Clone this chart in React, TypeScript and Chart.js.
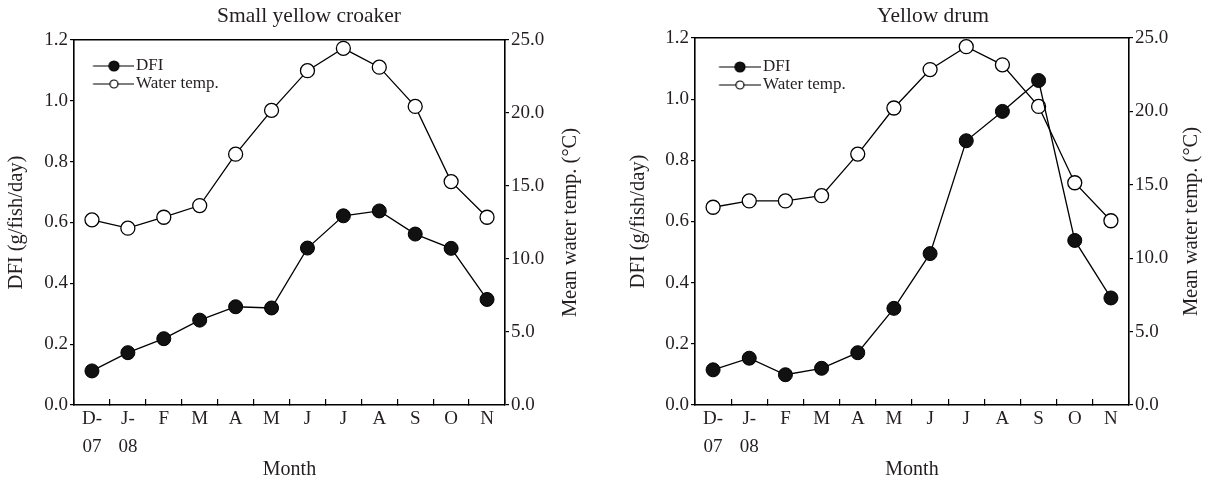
import React, { useEffect, useRef } from 'react';
import { Chart, registerables } from 'chart.js';

Chart.register(...registerables);

// ---------- data ----------
const months: (string | string[])[] = [['D-', '07'], ['J-', '08'], 'F', 'M', 'A', 'M', 'J', 'J', 'A', 'S', 'O', 'N'];

const croakerDFI = [0.112, 0.172, 0.218, 0.279, 0.323, 0.319, 0.516, 0.622, 0.638, 0.562, 0.515, 0.347];
const croakerTemp = [12.68, 12.11, 12.86, 13.66, 17.18, 20.18, 22.9, 24.43, 23.14, 20.45, 15.3, 12.86];

const drumDFI = [0.115, 0.153, 0.099, 0.12, 0.171, 0.316, 0.495, 0.864, 0.96, 1.061, 0.538, 0.35];
const drumTemp = [13.47, 13.9, 13.9, 14.26, 17.09, 20.23, 22.85, 24.41, 23.17, 20.34, 15.14, 12.55];

const dfiTicks = [0, 0.2, 0.4, 0.6, 0.8, 1.0, 1.2];
const tempTicks = [0, 5, 10, 15, 20, 25];

const titles = ['Small yellow croaker', 'Yellow drum'];
const seriesLabels = ['DFI', 'Water temp.'];
const xTitle = 'Month';
const yTitle = 'DFI (g/fish/day)';
const y1Title = 'Mean water temp. (°C)';

const FONT = "'Liberation Serif', 'Times New Roman', serif";
const TEXT = '#231f20';
const H = 483;

type Geo = {
  canvasLeft: number;
  width: number;
  area: { left: number; right: number; top: number; bottom: number };
  leftTitleX: number;
  rightTitleX: number;
  legend: { lineStart: number; marker: number; textStart: number; firstY: number };
};

function makeIcon(width: number, lineStart: number, marker: number, filled: boolean) {
  const c = document.createElement('canvas');
  c.width = width;
  c.height = 14;
  const ctx = c.getContext('2d')!;
  ctx.strokeStyle = '#000';
  ctx.lineWidth = 1.2;
  ctx.beginPath();
  ctx.moveTo(lineStart, 7);
  ctx.lineTo(width, 7);
  ctx.stroke();
  ctx.beginPath();
  ctx.arc(marker, 7, filled ? 5 : 4, 0, Math.PI * 2);
  ctx.fillStyle = filled ? '#111' : '#fff';
  ctx.fill();
  ctx.stroke();
  return c;
}

// Draws the right-axis title reading bottom-to-top, as in the reference.
const rightAxisTitle = {
  id: 'rightAxisTitle',
  afterDraw(chart: any, _args: any, opts: any) {
    const s = chart.scales.y1;
    if (!s || !opts || !opts.text) return;
    const ctx = chart.ctx;
    ctx.save();
    ctx.translate(opts.x, (s.top + s.bottom) / 2);
    ctx.rotate(-Math.PI / 2);
    ctx.fillStyle = opts.color;
    ctx.font = opts.font;
    ctx.textAlign = 'center';
    ctx.textBaseline = 'middle';
    ctx.fillText(opts.text, 0, 0);
    ctx.restore();
  },
};

function FishChart({ title, dfi, temp, geo }: { title: string; dfi: number[]; temp: number[]; geo: Geo }) {
  const ref = useRef<HTMLCanvasElement>(null);
  useEffect(() => {
    const canvas = ref.current!;
    const a = geo.area;
    const cl = geo.canvasLeft;
    const leftW = a.left - cl;
    const rightW = cl + geo.width - a.right;
    const xH = H - a.bottom;
    const fontSize = 17;
    const x0 = a.left + 1; // legend start (chartArea.left + labels.padding)
    const bw = geo.legend.textStart - x0 - fontSize / 2;
    const iconW = Math.round(2 * (geo.legend.textStart - 2 - x0) - bw);
    const iconLeft = x0 + bw / 2 - iconW / 2;
    const icons = [
      makeIcon(iconW, geo.legend.lineStart - iconLeft, geo.legend.marker - iconLeft, true),
      makeIcon(iconW, geo.legend.lineStart - iconLeft, geo.legend.marker - iconLeft, false),
    ];
    const tickFont = { family: FONT, size: 19 };
    const axisTitleSize = 20.5;
    const axisTitleFont = { family: FONT, size: axisTitleSize };
    const leftPad = geo.leftTitleX - cl - (axisTitleSize * 1.2) / 2;
    const legendPad = geo.legend.firstY - 10 - 1 - fontSize / 2 + 2;

    const chart = new Chart(canvas, {
      type: 'line',
      plugins: [rightAxisTitle],
      data: {
        labels: months,
        datasets: [
          {
            label: seriesLabels[0],
            data: dfi,
            xAxisID: 'x',
            yAxisID: 'y',
            borderColor: '#000',
            borderWidth: 1.3,
            backgroundColor: '#111',
            pointBackgroundColor: '#111',
            pointBorderColor: '#000',
            pointBorderWidth: 1,
            pointRadius: 7,
            tension: 0,
          },
          {
            label: seriesLabels[1],
            data: temp,
            xAxisID: 'x',
            yAxisID: 'y1',
            borderColor: '#000',
            borderWidth: 1.3,
            backgroundColor: '#fff',
            pointBackgroundColor: '#fff',
            pointBorderColor: '#000',
            pointBorderWidth: 1.3,
            pointRadius: 7,
            tension: 0,
          },
        ],
      },
      options: {
        responsive: false,
        animation: false,
        devicePixelRatio: 1,
        layout: { padding: 0 },
        plugins: {
          tooltip: { enabled: false },
          rightAxisTitle: {
            text: y1Title,
            x: geo.rightTitleX - cl,
            color: TEXT,
            font: `${axisTitleSize}px ${FONT}`,
          },
          title: {
            display: true,
            text: title,
            color: TEXT,
            font: { family: FONT, size: 21.5, weight: 'normal', lineHeight: 1.2 },
            padding: { top: 3, bottom: a.top - 3 - 25.8 },
          },
          legend: {
            position: 'chartArea' as any,
            align: 'start',
            title: { display: true, text: ' ', font: { size: 10, lineHeight: 1 }, padding: { top: legendPad, bottom: 0 } },
            labels: {
              usePointStyle: true,
              pointStyleWidth: bw,
              padding: 1,
              color: TEXT,
              font: { family: FONT, size: fontSize },
              generateLabels: (ch: any) => {
                const items = (Chart.defaults.plugins.legend.labels as any).generateLabels(ch);
                return items.map((it: any, i: number) => ({
                  ...it,
                  pointStyle: icons[i],
                  lineWidth: 0,
                  fillStyle: 'rgba(0,0,0,0)',
                  strokeStyle: 'rgba(0,0,0,0)',
                }));
              },
            },
          },
        },
        scales: {
          x: {
            type: 'category',
            position: 'bottom',
            offset: true,
            grid: { offset: true, drawOnChartArea: false, drawTicks: true, tickLength: -6, color: '#000', lineWidth: 1.2 },
            border: { display: true, color: '#000', width: 1.6 },
            ticks: { autoSkip: false, maxRotation: 0, minRotation: 0, padding: 6.5, color: TEXT, font: { ...tickFont, lineHeight: 28 / 19 } },
            title: { display: true, text: xTitle, color: TEXT, font: { family: FONT, size: 20 }, padding: { top: 0, bottom: 1 } },
            afterFit: (s: any) => { s.height = xH; },
          },
          xTop: {
            type: 'category',
            position: 'top',
            offset: true,
            grid: { display: false },
            ticks: { display: false },
            border: { display: true, color: '#000', width: 1.6 },
            afterFit: (s: any) => { s.height = 0; },
          },
          y: {
            type: 'linear',
            position: 'left',
            min: dfiTicks[0],
            max: dfiTicks[dfiTicks.length - 1],
            afterBuildTicks: (s: any) => { s.ticks = dfiTicks.map((v) => ({ value: v })); },
            ticks: { padding: 2, color: TEXT, font: tickFont, callback: (v: any) => Number(v).toFixed(1) },
            grid: { drawOnChartArea: false, drawTicks: true, tickLength: 4, color: '#000', lineWidth: 1.2 },
            border: { display: true, color: '#000', width: 1.6 },
            title: { display: true, text: yTitle, color: TEXT, font: axisTitleFont, padding: { top: leftPad, bottom: 0 } },
            afterFit: (s: any) => { s.width = leftW; },
          },
          y1: {
            type: 'linear',
            position: 'right',
            min: tempTicks[0],
            max: tempTicks[tempTicks.length - 1],
            afterBuildTicks: (s: any) => { s.ticks = tempTicks.map((v) => ({ value: v })); },
            ticks: { padding: 2, color: TEXT, font: tickFont, callback: (v: any) => Number(v).toFixed(1) },
            grid: { drawOnChartArea: false, drawTicks: true, tickLength: 4, color: '#000', lineWidth: 1.2 },
            border: { display: true, color: '#000', width: 1.6 },
            title: { display: false },
            afterFit: (s: any) => { s.width = rightW; },
          },
        },
      } as any,
    });
    return () => chart.destroy();
  }, []);
  return (
    <canvas
      ref={ref}
      width={geo.width}
      height={H}
      style={{ position: 'absolute', left: geo.canvasLeft, top: 0, width: geo.width, height: H }}
    />
  );
}

const geoLeft: Geo = {
  canvasLeft: 0,
  width: 618,
  area: { left: 74, right: 505, top: 40, bottom: 405 },
  leftTitleX: 17,
  rightTitleX: 571,
  legend: { lineStart: 93, marker: 114, textStart: 136, firstY: 64 },
};

const geoRight: Geo = {
  canvasLeft: 616,
  width: 634,
  area: { left: 695, right: 1129, top: 38, bottom: 405 },
  leftTitleX: 639,
  rightTitleX: 1192,
  legend: { lineStart: 719, marker: 740, textStart: 763, firstY: 65 },
};

export default function App() {
  return (
    <div style={{ position: 'fixed', left: 0, top: 0, width: 1209, height: H, overflow: 'hidden', background: '#fff' }}>
      <FishChart title={titles[0]} dfi={croakerDFI} temp={croakerTemp} geo={geoLeft} />
      <FishChart title={titles[1]} dfi={drumDFI} temp={drumTemp} geo={geoRight} />
    </div>
  );
}
